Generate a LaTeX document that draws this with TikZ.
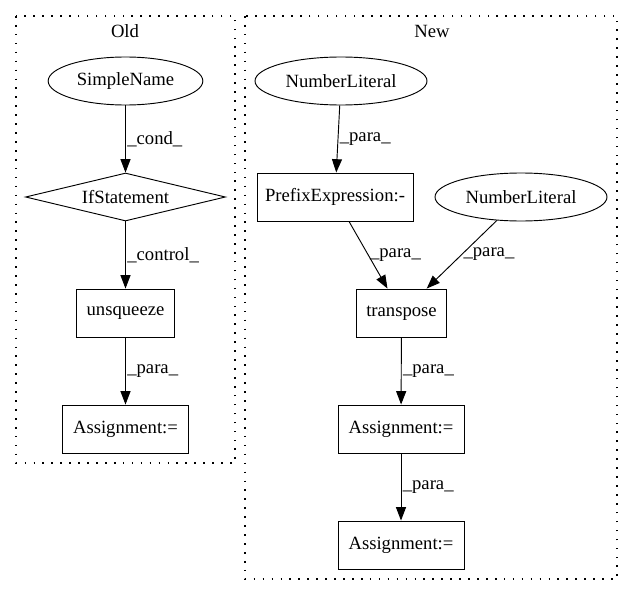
\documentclass[tikz,border=0pt]{standalone}
\usepackage{fontspec}
\setmainfont{Liberation Serif}
\usetikzlibrary{shapes.geometric,arrows.meta}
\tikzset{box/.style={draw,rectangle,minimum height=36pt,inner sep=0pt}}
\tikzset{oval/.style={draw,ellipse,minimum height=36pt,inner sep=0pt}}
\tikzset{test/.style={draw,diamond,minimum width=150pt,minimum height=36pt,shape aspect=4.2,inner sep=0pt}}
\tikzset{edge/.style={-{Triangle[length=10pt,width=7.5pt]}}}
\tikzset{lbl/.style={right,inner sep=1pt}}
\tikzset{cluster/.style={line width=0.9pt,dash pattern=on 1.2pt off 5.5pt}}

\begin{document}
\begin{tikzpicture}[x=0.75pt, y=-0.75pt, line width=0.7pt, font=\fontsize{14}{16}\selectfont]
	\useasboundingbox (0,0) rectangle (633,596);
	
	\draw[cluster] (16,16) rectangle (235,463);
	\draw[cluster] (245,16) rectangle (617,579);
	\node (old) at (125,31) {Old};
	\node (new) at (432,31) {New};
	
	\node[oval,minimum width=116pt] (sname) at (125.5,81) {SimpleName};
	\node[test] (ifst) at (125.5,197) {IfStatement};
	\node[box,minimum width=73pt] (unsq) at (125.5,313) {unsqueeze};
	\node[box,minimum width=94.5pt] (asgA) at (125.5,429) {Assignment:=};
	
	\node[oval,minimum width=129pt] (numA) at (341,81) {NumberLiteral};
	\node[box,minimum width=117pt] (prefix) at (335,197) {PrefixExpression:-};
	\node[oval,minimum width=129pt] (numB) at (521,197) {NumberLiteral};
	\node[box,minimum width=68pt] (transp) at (401.5,313) {transpose};
	\node[box,minimum width=94.5pt] (asgB) at (401,429) {Assignment:=};
	\node[box,minimum width=94.5pt] (asgC) at (401,545) {Assignment:=};
	
	\draw[edge] (sname) -- node[lbl] {\_cond\_} (ifst);
	\draw[edge] (ifst) -- node[lbl] {\_control\_} (unsq);
	\draw[edge] (unsq) -- node[lbl] {\_para\_} (asgA);
	
	\draw[edge] (numA) -- node[lbl] {\_para\_} (prefix);
	\draw[edge] (prefix) -- node[lbl] {\_para\_} (transp);
	\draw[edge] (numB) -- node[lbl] {\_para\_} (transp);
	\draw[edge] (transp) -- node[lbl] {\_para\_} (asgB);
	\draw[edge] (asgB) -- node[lbl] {\_para\_} (asgC);
\end{tikzpicture}
\end{document}
